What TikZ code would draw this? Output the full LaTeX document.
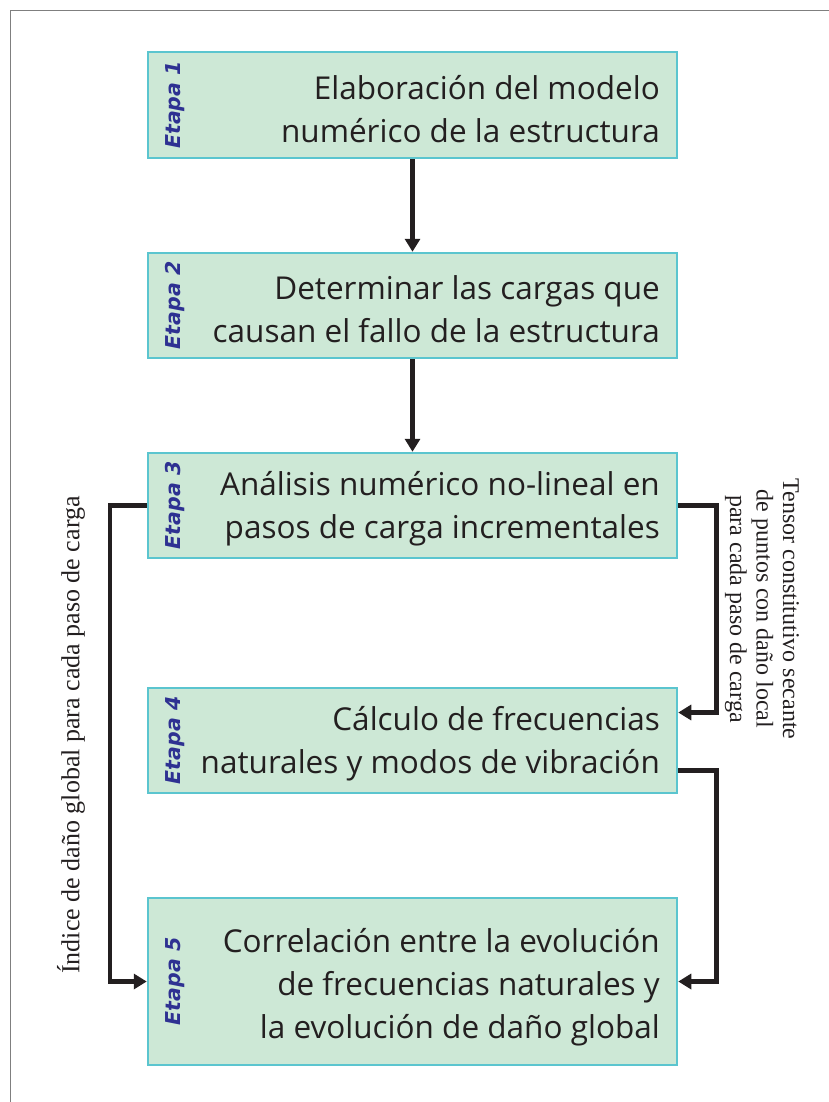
\documentclass[tikz,border=0pt]{standalone}
\usepackage{fontspec}
\setmainfont{Liberation Serif}
\newfontfamily\boxfont{Open Sans}
\newfontfamily\etapafont{DejaVu Sans}
\usetikzlibrary{arrows.meta}
\definecolor{boxfill}{HTML}{CDE8D6}
\definecolor{boxline}{HTML}{5BC5CF}
\definecolor{ink}{HTML}{231F20}
\definecolor{etapablue}{HTML}{2E3192}
\definecolor{framegray}{HTML}{7F7F7F}
\begin{document}
\begin{tikzpicture}[x=1pt,y=-1pt,
  box/.style={draw=boxline, fill=boxfill, line width=2.5pt, minimum width=529pt, inner sep=0pt},
  boxtext/.style={anchor=east, align=right, inner sep=0pt, text=ink, font=\boxfont\fontsize{31.5}{43}\selectfont},
  etapa/.style={rotate=90, inner sep=0pt, text=etapablue, font=\etapafont\fontsize{20.5}{22}\selectfont\bfseries\itshape},
  lab/.style={inner sep=0pt, text=ink, align=center},
  conn/.style={draw=ink, line width=4.5pt, -{Triangle[length=13pt,width=15pt]}}
]
\useasboundingbox (0,0) rectangle (829,1102);
\draw[framegray, line width=1.5pt] (10.5,1102) -- (10.5,10.5) -- (829,10.5);

\node[box, minimum height=106pt] (b1) at (412.5,105) {};
\node[box, minimum height=105pt] (b2) at (412.5,305.5) {};
\node[box, minimum height=105pt] (b3) at (412.5,505.5) {};
\node[box, minimum height=105pt] (b4) at (412.5,740.5) {};
\node[box, minimum height=167pt] (b5) at (412.5,981.5) {};

\node[etapa] (e1) at (175,105) {Etapa 1};
\node[etapa] (e2) at (175,305.5) {Etapa 2};
\node[etapa] (e3) at (175,505.5) {Etapa 3};
\node[etapa] (e4) at (175,740.5) {Etapa 4};
\node[etapa] (e5) at (175,981.5) {Etapa 5};

\node[boxtext] (t1) at (660,109) {Elaboración del modelo\\numérico de la estructura};
\node[boxtext] (t2) at (660,309) {Determinar las cargas que\\causan el fallo de la estructura};
\node[boxtext] (t3) at (660,509) {Análisis numérico no-lineal en\\pasos de carga incrementales};
\node[boxtext] (t4) at (660,744) {Cálculo de frecuencias\\naturales y modos de vibración};
\node[boxtext] (t5) at (660,987) {Correlación entre la evolución\\de frecuencias naturales y\\la evolución de daño global};

\draw[conn] (b1.south) -- (b2.north);
\draw[conn] (b2.south) -- (b3.north);
\draw[conn] (b3.west) -- ++(-37,0) |- (b5.west);
\draw[conn] (b3.east) -- ++(38,0) |- ([yshift=28pt]b4.east);
\draw[conn] ([yshift=-30pt]b4.east) -- ++(38,0) |- (b5.east);

\node[lab, rotate=90, font=\fontsize{26}{30}\selectfont] (l1) at (71,735) {Índice de daño global para cada paso de carga};
\node[lab, rotate=-90, font=\fontsize{24}{26.5}\selectfont] (l2) at (762,609) {Tensor constitutivo secante\\de puntos con daño local\\para cada paso de carga};
\end{tikzpicture}
\end{document}
